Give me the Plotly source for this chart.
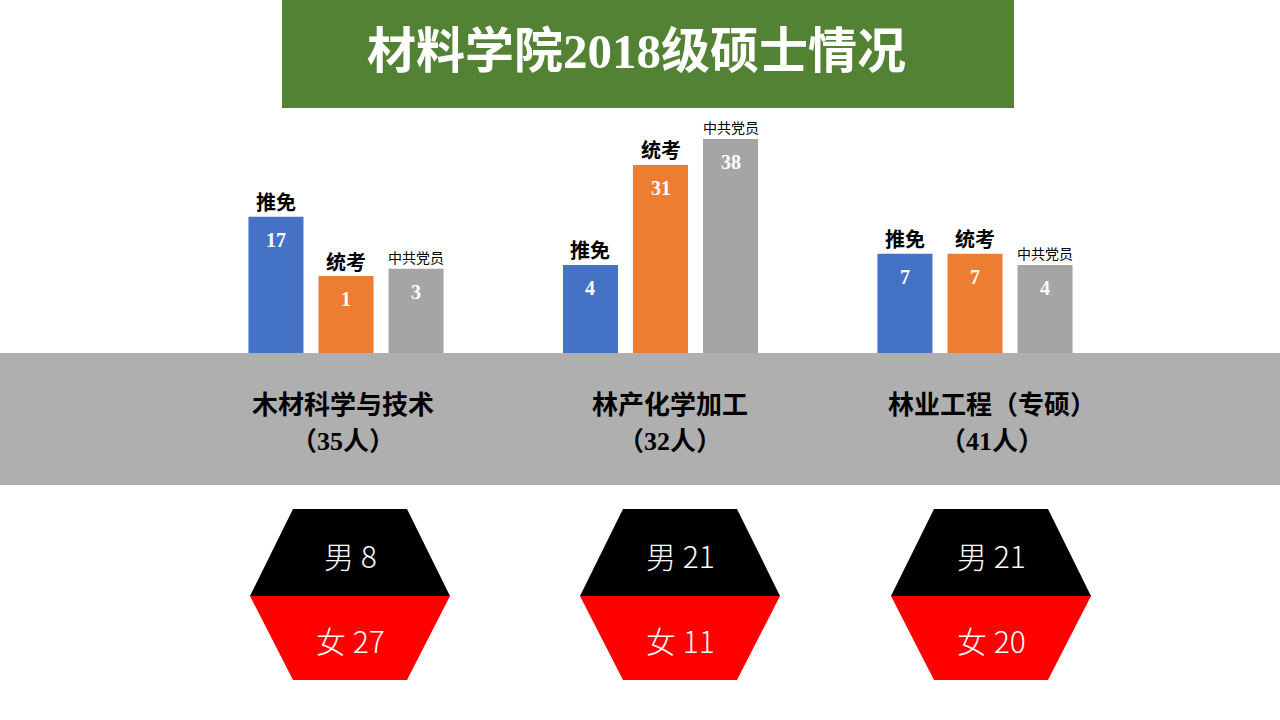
import plotly.graph_objects as go

# data
majors = ["木材科学与技术", "林产化学加工", "林业工程（专硕）"]
totals = [35, 32, 41]
series = ["推免", "统考", "中共党员"]
tuimian = [17, 4, 7]
tongkao = [1, 31, 7]
dangyuan = [3, 38, 4]
male = [8, 21, 21]
female = [27, 11, 20]

colors = ["#4472C4", "#ED7D31", "#A5A5A5"]
W, H = 1280, 720
AXIS_MIN = -19.75          # value axis floor (hidden behind the grey band)
PX_PER_UNIT = 3.706
FLOOR_Y = 353              # pixel row where the bars come out of the band
X_LEFT, X_RIGHT = 188.75, 1132.25
BARGAP, GROUPGAP = 0.332, 0.214

SERIF = "Liberation Serif, Noto Sans CJK SC"
SANS = "Noto Sans CJK SC"


def px(x):
    return x / W


def py(y):
    return 1 - y / H


def note(x, y, text, font):
    # text placed in slide pixels
    return dict(x=px(x), y=py(y), xref="paper", yref="paper", text=text,
                showarrow=False, xanchor="center", yanchor="middle", font=font)


fig = go.Figure()
values = [tuimian, tongkao, dangyuan]
for name, vals, c in zip(series, values, colors):
    fig.add_trace(go.Bar(
        name=name, x=majors, y=[v - AXIS_MIN for v in vals], base=AXIS_MIN,
        marker_color=c, marker_line_width=0, hoverinfo="skip"))

annotations = []
slot = (X_RIGHT - X_LEFT) / len(majors)
for i, (name, vals) in enumerate(zip(series, values)):
    shift = (i - 1) * (1 - BARGAP) / 3 * slot
    for m, v in zip(majors, vals):
        annotations.append(dict(
            x=m, y=v, xref="x", yref="y", xshift=shift, yshift=-23,
            text=str(v), showarrow=False, xanchor="center", yanchor="middle",
            font=dict(family=SERIF, size=20, color="white", weight="bold")))
        small = name == "中共党员"
        annotations.append(dict(
            x=m, y=v, xref="x", yref="y", xshift=shift,
            yshift=11.5 if small else 15,
            text=name, showarrow=False, xanchor="center", yanchor="middle",
            font=dict(family=SANS, size=14 if small else 20, color="black",
                      weight="normal" if small else "bold")))

# title
annotations.append(note(636, 52, "材料学院2018级硕士情况",
                        dict(family=SERIF, size=49, color="white", weight="bold")))

# major names on the grey band
band_font = dict(family=SERIF, size=26, color="black", weight="bold")
band_x = [343, 670, 992]
for bx, m, n in zip(band_x, majors, totals):
    annotations.append(note(bx, 405, m, band_font))
    annotations.append(note(bx, 441, f"（{n}人）", band_font))

shapes = [
    dict(type="rect", xref="paper", yref="paper", x0=px(282), x1=px(1014),
         y0=py(108), y1=py(0), fillcolor="#548235", line_width=0, layer="below"),
    dict(type="rect", xref="paper", yref="paper", x0=0, x1=1,
         y0=py(485), y1=py(353), fillcolor="#AFAFAF", line_width=0, layer="above"),
]

# gender hexagons
hex_font = dict(family=SANS, size=30, color="white", weight=300)
hex_x = [350, 680, 991]
for cx, mnum, fnum in zip(hex_x, male, female):
    top = [(cx - 57, 509), (cx + 57, 509), (cx + 100, 596), (cx - 100, 596)]
    bot = [(cx - 100, 596), (cx + 100, 596), (cx + 57, 680), (cx - 57, 680)]
    for pts, fc in ((top, "#000000"), (bot, "#FF0000")):
        path = "M " + " L ".join(f"{px(a):.5f},{py(b):.5f}" for a, b in pts) + " Z"
        shapes.append(dict(type="path", xref="paper", yref="paper", path=path,
                           fillcolor=fc, line_width=0, layer="above"))
    annotations.append(note(cx, 555, f"男 {mnum}", hex_font))
    annotations.append(note(cx, 640, f"女 {fnum}", hex_font))

fig.update_layout(
    width=W, height=H, margin=dict(l=0, r=0, t=0, b=0, pad=0, autoexpand=False),
    paper_bgcolor="white", plot_bgcolor="white", showlegend=False,
    barmode="group", bargap=BARGAP, bargroupgap=GROUPGAP,
    xaxis=dict(domain=[px(X_LEFT), px(X_RIGHT)], range=[-0.5, 2.5], visible=False,
               fixedrange=True),
    yaxis=dict(domain=[py(FLOOR_Y), 1], visible=False, fixedrange=True,
               range=[AXIS_MIN, AXIS_MIN + FLOOR_Y / PX_PER_UNIT]),
    shapes=shapes, annotations=annotations,
)
fig.write_html("out.html", config={"displayModeBar": False},
               post_script="document.body.style.margin = '0';")
